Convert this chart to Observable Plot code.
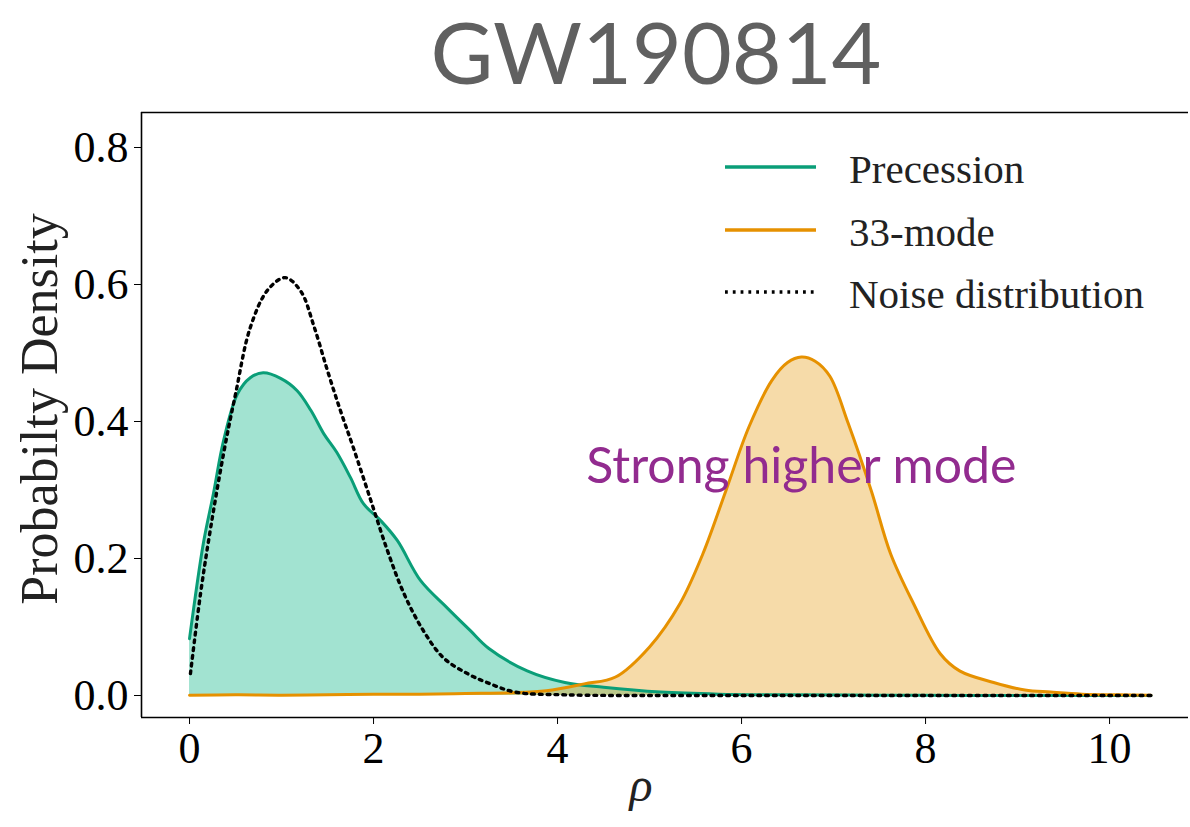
<!DOCTYPE html>
<html><head><meta charset="utf-8">
<script src="https://cdn.jsdelivr.net/npm/d3@7"></script>
<script src="https://cdn.jsdelivr.net/npm/@observablehq/plot@0.6"></script>
<style>
body{margin:0;background:#fff;}
#wrap{position:relative;width:1190px;height:827px;overflow:hidden;background:#fff;}
#title{box-sizing:border-box;height:100px;line-height:102px;padding-left:122px;font-family:Lato,sans-serif;font-size:86px;color:#606060;text-align:center;width:1190px;white-space:nowrap;overflow:visible;}
#legend{position:absolute;left:0;top:0;pointer-events:none;}
</style></head><body>
<div id="wrap"><div id="title">GW190814</div><div id="chart"></div></div>
<script>
// Precession
const precRho  = [0, 0.15, 0.26, 0.37, 0.52, 0.66, 0.80, 0.99, 1.17, 1.32, 1.46, 1.60, 1.75, 1.89, 2.08, 2.26, 2.51, 2.80, 3.05, 3.25, 3.67, 4.08, 4.5, 5.12, 5.75, 6.5, 7.5, 8.5, 9.5, 10.45];
const precDens = [0.083, 0.222, 0.295, 0.372, 0.44, 0.464, 0.471, 0.463, 0.445, 0.416, 0.382, 0.355, 0.318, 0.28, 0.255, 0.226, 0.168, 0.128, 0.095, 0.069, 0.036, 0.019, 0.012, 0.005, 0.002, 0.001, 0.0005, 0, 0, 0];
// 33-mode
const modeRho  = [0, 0.5, 1, 1.5, 2, 2.5, 3, 3.5, 3.88, 4.29, 4.63, 5.0, 5.33, 5.58, 5.83, 6.08, 6.33, 6.5, 6.65, 6.8, 6.96, 7.16, 7.41, 7.62, 7.87, 8.16, 8.37, 8.74, 9.08, 9.36, 9.7, 10.1, 10.45];
const modeDens = [0.0005, 0.001, 0.0005, 0.001, 0.002, 0.002, 0.003, 0.004, 0.007, 0.017, 0.027, 0.071, 0.134, 0.207, 0.299, 0.392, 0.46, 0.486, 0.494, 0.488, 0.466, 0.397, 0.299, 0.207, 0.134, 0.061, 0.036, 0.019, 0.008, 0.005, 0.002, 0.001, 0.0005];
// Noise distribution
const noiseRho  = [0.01, 0.12, 0.23, 0.37, 0.50, 0.66, 0.85, 1.04, 1.21, 1.35, 1.50, 1.64, 1.78, 1.97, 2.15, 2.33, 2.54, 2.76, 3.02, 3.25, 3.54, 4.08, 5, 6, 7, 8, 9, 10, 10.45];
const noiseDens = [0.032, 0.149, 0.245, 0.353, 0.44, 0.537, 0.592, 0.61, 0.59, 0.54, 0.474, 0.416, 0.362, 0.285, 0.212, 0.149, 0.095, 0.055, 0.032, 0.018, 0.005, 0.001, 0, 0, 0, 0, 0, 0, 0];

const xTicks = [0, 2, 4, 6, 8, 10];
const yTicks = [0.0, 0.2, 0.4, 0.6, 0.8];
const xDomain = [-0.522, 10.858];
const yDomain = [-0.0321, 0.8511];

const legendLabels = ["Precession", "33-mode", "Noise distribution"];
const annText = ["Strong higher mode"];
const annX = [6.65];
const annY = [0.333];

const C_GREEN = "#0a9e78", F_GREEN = "#a2e3d1";
const C_ORANGE = "#e69100";
const C_PURPLE = "#922b8f";
const DOTS = "2.8,5";

const toRows = (xs, ys) => xs.map((x, i) => ({x, y: ys[i]}));
const prec = toRows(precRho, precDens);
const mode = toRows(modeRho, modeDens);
const noise = toRows(noiseRho, noiseDens);
const ann = annText.map((t, i) => ({t, x: annX[i], y: annY[i]}));

const curve = "catmull-rom";
const chart = Plot.plot({
  width: 1190, height: 727,
  marginLeft: 141, marginRight: 2, marginTop: 12, marginBottom: 110,
  style: {fontFamily: "'Liberation Serif', serif", color: "#000", background: "transparent", overflow: "visible"},
  x: {domain: xDomain, label: null},
  y: {domain: yDomain, label: null},
  marks: [
    Plot.areaY(prec, {x: "x", y: "y", fill: F_GREEN, curve}),
    Plot.areaY(mode, {x: "x", y: "y", fill: "rgb(232,160,30)", fillOpacity: 0.38, curve}),
    Plot.lineY(prec, {x: "x", y: "y", stroke: C_GREEN, strokeWidth: 3, curve}),
    Plot.lineY(mode, {x: "x", y: "y", stroke: C_ORANGE, strokeWidth: 3, curve}),
    Plot.lineY(noise, {x: "x", y: "y", stroke: "#000", strokeWidth: 3.4, strokeDasharray: DOTS, curve}),
    Plot.ruleX([xDomain[0]], {stroke: "#000", strokeWidth: 1.6}),
    Plot.ruleY([yDomain[0], yDomain[1]], {stroke: "#000", strokeWidth: 1.6}),
    Plot.axisX({ticks: xTicks, tickSize: 7, tickPadding: 7, fontSize: 44, label: null, tickFormat: d3.format("d")}),
    Plot.axisY({ticks: yTicks, tickSize: 7, tickPadding: 6, fontSize: 44, label: null, tickFormat: d3.format(".1f")}),
    Plot.text(ann, {x: "x", y: "y", text: "t", fill: C_PURPLE, fontSize: 50, fontFamily: "Lato, sans-serif", textAnchor: "middle"}),
    Plot.text(["Probabilty Density"], {frameAnchor: "left", textAnchor: "middle", lineAnchor: "middle", dx: -101, dy: -6, rotate: -90, fontSize: 52, fill: "#222"}),
    Plot.text(["ρ"], {frameAnchor: "bottom", textAnchor: "middle", lineAnchor: "middle", dx: -24, dy: 68, fontSize: 48, fontStyle: "italic", fill: "#222"})
  ]
});
document.getElementById("chart").appendChild(chart);

// Legend (overlay)
const lg = d3.select("#wrap").append("svg").attr("id", "legend").attr("width", 1190).attr("height", 827);
const lColors = [C_GREEN, C_ORANGE, "#000"];
const lDash = [null, null, DOTS];
const lineYs = [167, 230, 292];
legendLabels.forEach((lab, i) => {
  lg.append("line").attr("x1", 725).attr("x2", 816).attr("y1", lineYs[i]).attr("y2", lineYs[i])
    .attr("stroke", lColors[i]).attr("stroke-width", i === 2 ? 3.4 : 3.5).attr("stroke-dasharray", lDash[i]);
  lg.append("text").attr("x", 849).attr("y", lineYs[i] + 16).text(lab)
    .attr("font-family", "'Liberation Serif', serif").attr("font-size", 41).attr("fill", "#222");
});
</script>
</body></html>
